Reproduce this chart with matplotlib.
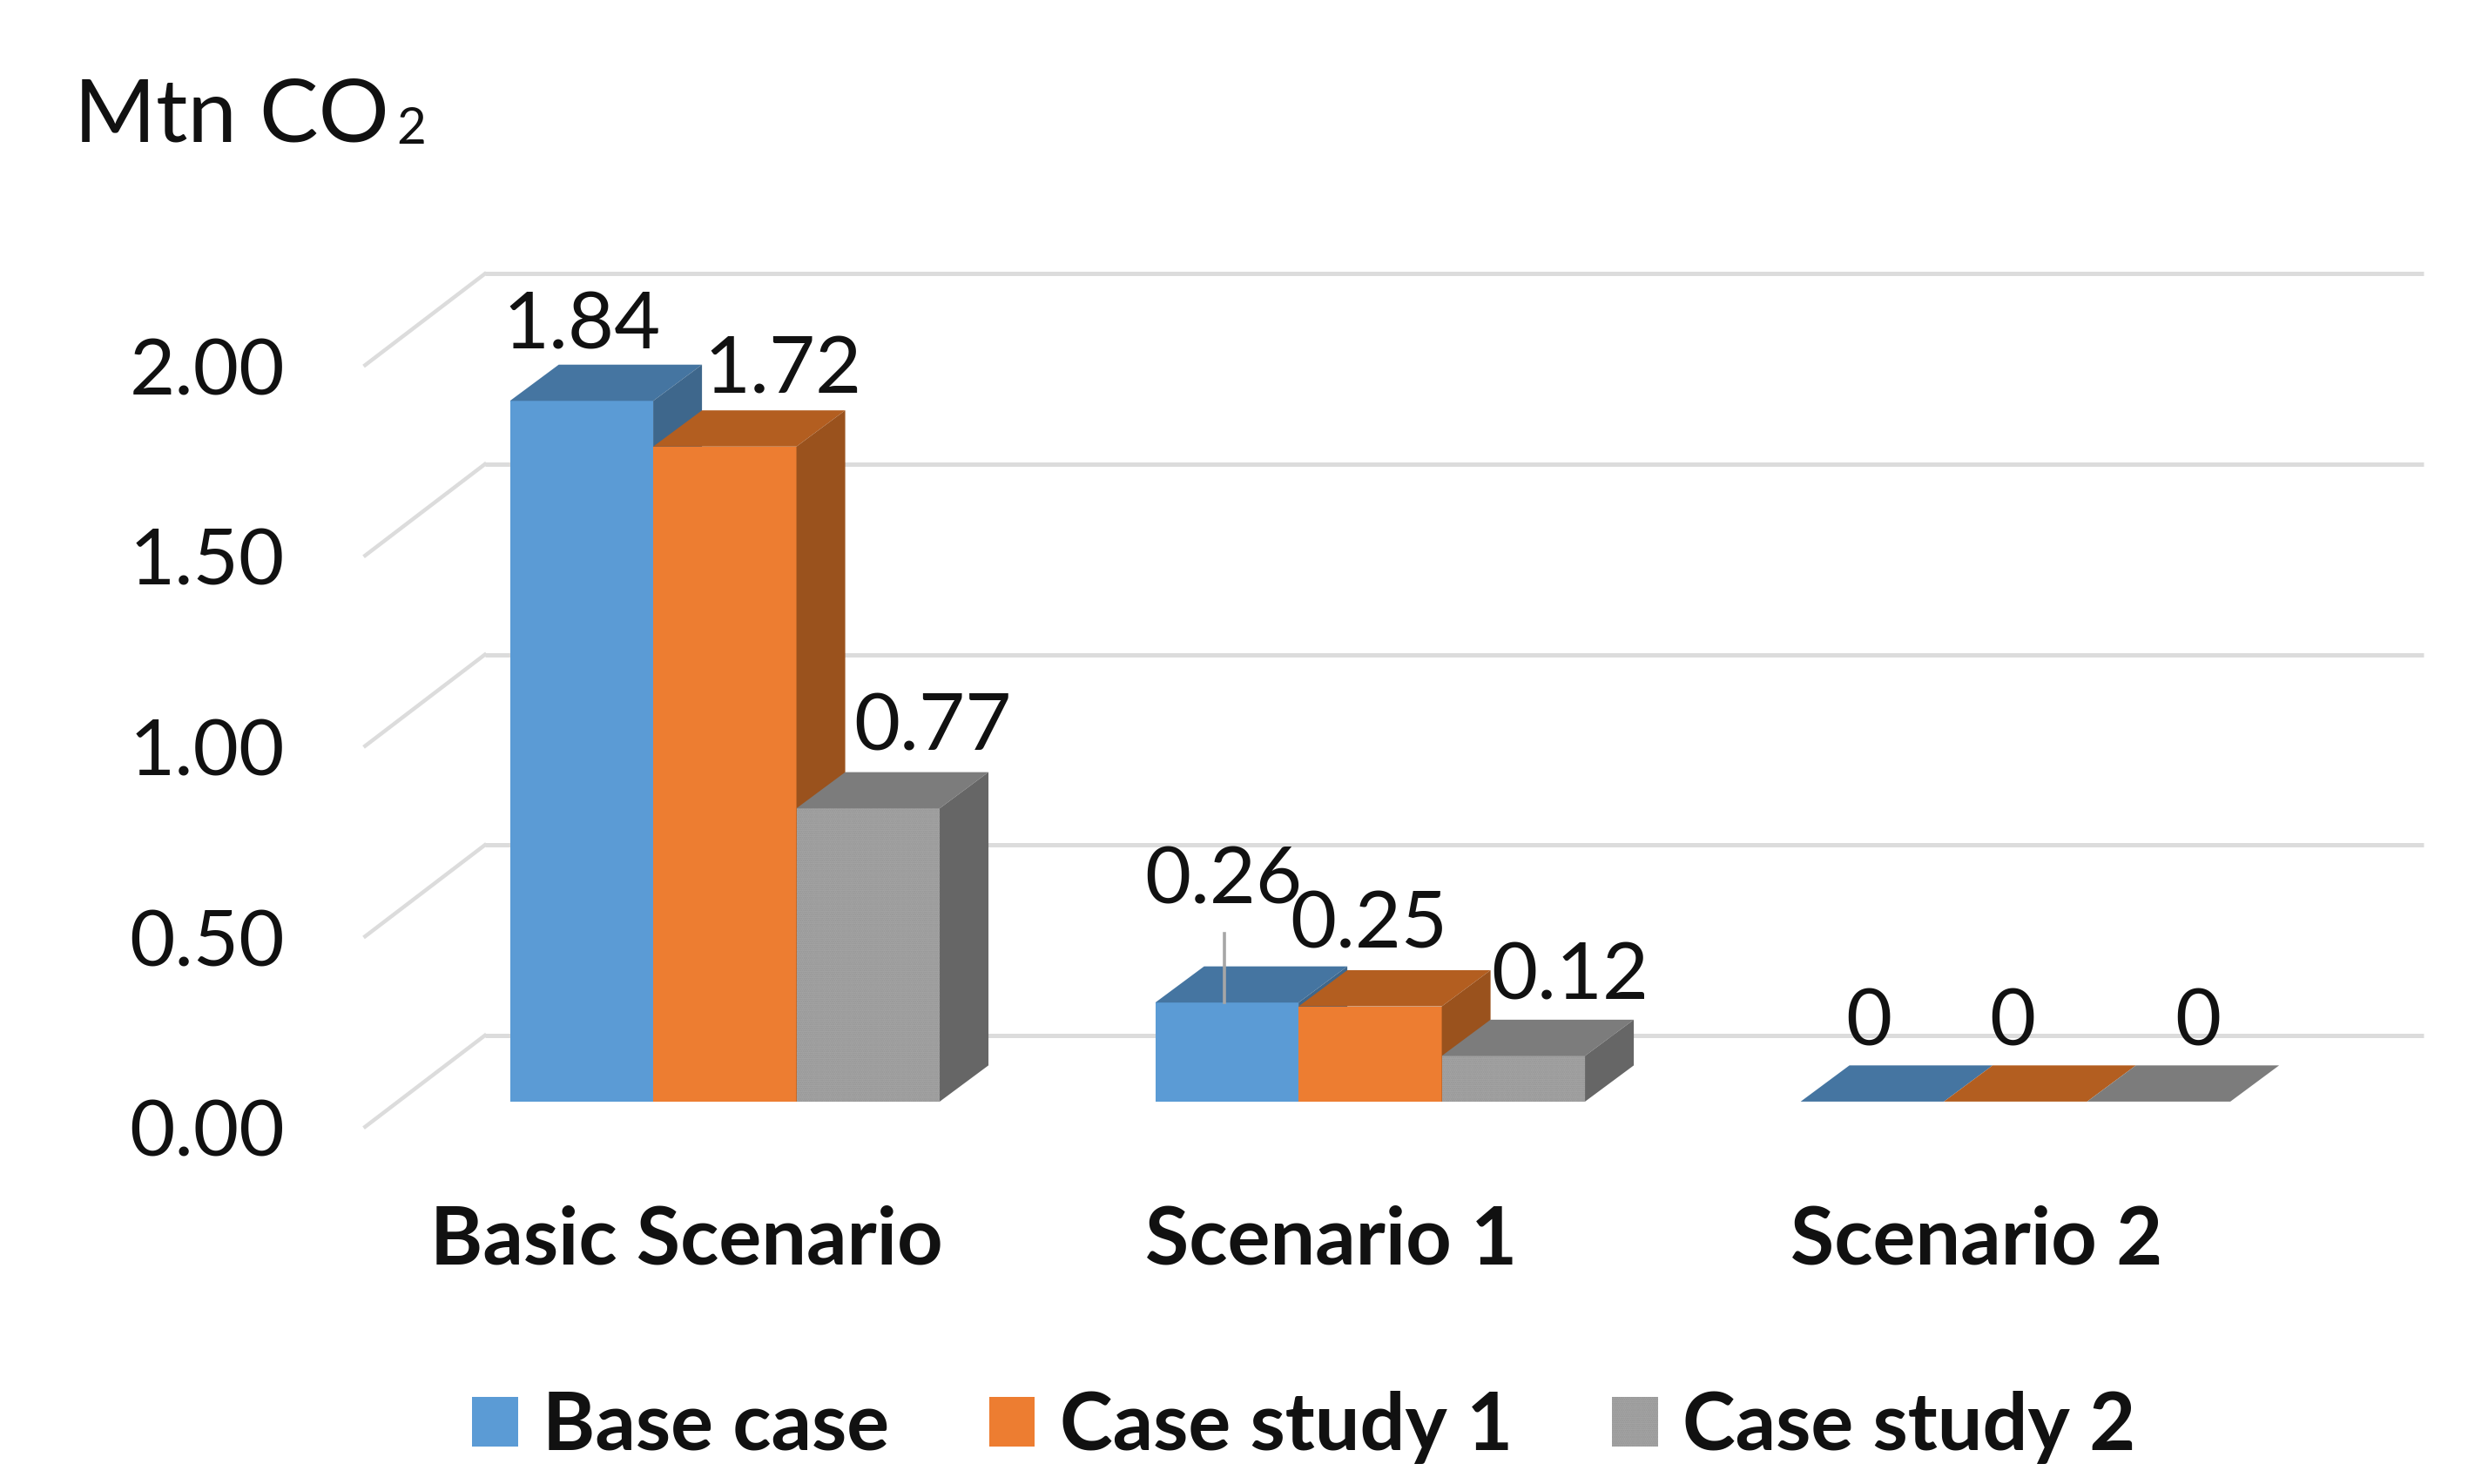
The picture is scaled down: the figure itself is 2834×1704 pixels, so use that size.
import matplotlib
matplotlib.use("Agg")
import matplotlib.pyplot as plt
from matplotlib.patches import Patch, Polygon

plt.rcParams['font.family'] = ['Lato', 'Noto Sans', 'DejaVu Sans']
plt.rcParams['hatch.linewidth'] = 1.0

# --------------------------
# Data
# --------------------------
categories = ['Basic Scenario', 'Scenario 1', 'Scenario 2']
series_names = ['Base case', 'Case study 1', 'Case study 2']
base_case = [1.84, 0.26, 0]
case_study_1 = [1.72, 0.25, 0]
case_study_2 = [0.77, 0.12, 0]
y_ticks = [0.00, 0.50, 1.00, 1.50, 2.00]

# --------------------------
# Styles and layout (reference px, 1568 wide view)
# --------------------------
series = [base_case, case_study_1, case_study_2]
front_colors = ['#5b9bd5', '#ed7d31', '#a5a5a5']
top_colors = ['#4575a1', '#b35e20', '#7c7c7c']
side_colors = ['#3e678c', '#9a521d', '#666666']
hatches = [None, None, '.......']

PX_X = 410.0   # view px per category
PX_Y = 242.0   # view px per unit of value
bar_w = 91 / PX_X
depth_x = 31 / PX_X
depth_y = 23 / PX_Y
left_shift = -112 / PX_X

# label nudges from the top centre of each bar, in view px
nudge_x = [[0, 37, 41], [-2, -1, 36], [-2, -2, 25]]
nudge_y = [[47, 48, 51], [77, 51, 50], [50, 50, 50]]

fig = plt.figure(figsize=(28.34, 17.04), dpi=100)
ax = fig.add_axes([0, 0, 1, 1])
ax.set_xlim(-436 / PX_X, (1568 - 436) / PX_X)
ax.set_ylim(-243 / PX_Y, 700 / PX_Y)
ax.axis('off')

# --------------------------
# Back wall and floor lines
# --------------------------
wall_left = -128 / PX_X
wall_right = 1104 / PX_X
floor_left = -204 / PX_X
back_y = 42 / PX_Y
front_y = -16 / PX_Y
for v in y_ticks:
    ax.plot([wall_left, wall_right], [v + back_y, v + back_y],
            color='#dcdcdc', lw=3.6, solid_capstyle='butt', zorder=1)
    ax.plot([floor_left, wall_left], [v + front_y, v + back_y],
            color='#dcdcdc', lw=3.2, zorder=1)
    ax.text(-255 / PX_X, v + front_y - 5 / PX_Y, f'{v:.2f}', ha='right', va='center',
            fontsize=65, color='#111111', zorder=5)

# --------------------------
# Bars
# --------------------------
px_to_pt = 1.807 * 0.72
for c in range(len(categories)):
    for s in range(len(series)):
        val = series[s][c]
        x0 = c + left_shift + s * bar_w
        x1 = x0 + bar_w
        z = 2 + c + s * 0.1
        ax.bar(x0, val, width=bar_w, align='edge', color=front_colors[s],
               hatch=hatches[s], edgecolor='#959595' if hatches[s] else front_colors[s],
               linewidth=0, zorder=z)
        ax.add_patch(Polygon([(x0, val), (x1, val), (x1 + depth_x, val + depth_y), (x0 + depth_x, val + depth_y)],
                             closed=True, facecolor=top_colors[s], edgecolor='none', zorder=z))
        ax.add_patch(Polygon([(x1, 0), (x1 + depth_x, depth_y), (x1 + depth_x, val + depth_y), (x1, val)],
                             closed=True, facecolor=side_colors[s], edgecolor='none', zorder=z))
        label = f'{val:.2f}' if val else '0'
        ax.annotate(label, xy=((x0 + x1) / 2, val),
                    xytext=(nudge_x[c][s] * px_to_pt, nudge_y[c][s] * px_to_pt),
                    textcoords='offset points', ha='center', va='center',
                    fontsize=66, color='#111111', zorder=10)

# leader line for the 0.26 label
lead_x = 1 + left_shift + bar_w / 2 - 1.5 / PX_X
ax.plot([lead_x, lead_x], [base_case[1], base_case[1] + 44 / PX_Y],
        color='#a6a6a6', lw=2.6, zorder=9)

# --------------------------
# Category labels, unit, legend
# --------------------------
for c, name in enumerate(categories):
    ax.text(c, -89 / PX_Y, name, ha='center', va='center',
            fontsize=66, fontweight='bold', color='#111111')

ax.text(-389 / PX_X, 626 / PX_Y, 'Mtn CO', ha='left', va='center',
        fontsize=73, color='#111111')
ax.text(-184 / PX_X, 618 / PX_Y, '2', ha='left', va='center',
        fontsize=42, color='#111111')

handles = [Patch(facecolor=front_colors[i], hatch=hatches[i], edgecolor='#959595' if hatches[i] else front_colors[i],
                 linewidth=0, label=series_names[i]) for i in range(3)]
ax.legend(handles=handles, ncols=3, loc='center', bbox_to_anchor=(828.5 / 1568, 1 - 907 / 943),
          frameon=False, prop={'size': 66, 'weight': 'bold'}, labelcolor='#111111',
          handlelength=0.57, handleheight=0.57, handletextpad=0.31, columnspacing=1.25,
          borderpad=0, borderaxespad=0)

fig.savefig('out.png', dpi=100, facecolor='white')
